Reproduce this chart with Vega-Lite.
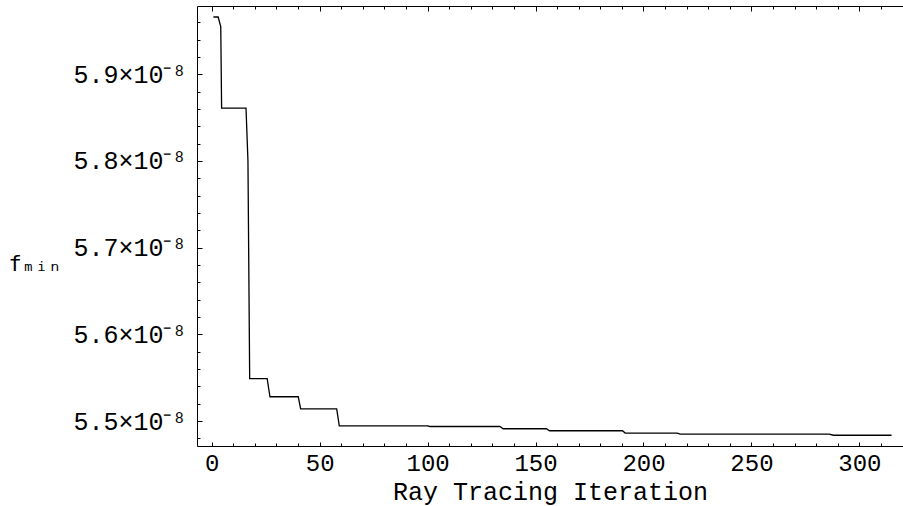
{
  "$schema": "https://vega.github.io/schema/vega-lite/v6.json",
  "autosize": {"type": "none"},
  "padding": {"left": 197, "top": 6, "right": 0, "bottom": 60},
  "width": 706,
  "height": 440,
  "background": "white",
  "config": {
    "view": {"stroke": null},
    "axis": {
      "domainColor": "black",
      "domainWidth": 1,
      "tickColor": "black",
      "tickWidth": 1,
      "grid": false,
      "labelFont": "Liberation Mono",
      "titleFont": "Liberation Mono",
      "labelColor": "black",
      "titleColor": "black",
      "labelFontSize": 24,
      "titleFontSize": 25,
      "titleFontWeight": "normal"
    }
  },
  "data": {
    "values": [
      {"it": 0.8, "f": 5.966e-8},
      {"it": 3.0, "f": 5.966e-8},
      {"it": 4.2, "f": 5.955e-8},
      {"it": 4.6, "f": 5.861e-8},
      {"it": 15.9, "f": 5.861e-8},
      {"it": 16.8, "f": 5.800e-8},
      {"it": 17.6, "f": 5.549e-8},
      {"it": 25.7, "f": 5.549e-8},
      {"it": 27.0, "f": 5.528e-8},
      {"it": 40.1, "f": 5.528e-8},
      {"it": 41.2, "f": 5.514e-8},
      {"it": 57.9, "f": 5.514e-8},
      {"it": 59.1, "f": 5.4945e-8},
      {"it": 100.0, "f": 5.4945e-8},
      {"it": 101.0, "f": 5.4937e-8},
      {"it": 133.5, "f": 5.4937e-8},
      {"it": 135.0, "f": 5.4911e-8},
      {"it": 155.0, "f": 5.4911e-8},
      {"it": 156.5, "f": 5.4888e-8},
      {"it": 190.3, "f": 5.4888e-8},
      {"it": 191.5, "f": 5.4861e-8},
      {"it": 215.6, "f": 5.4861e-8},
      {"it": 217.0, "f": 5.4850e-8},
      {"it": 286.0, "f": 5.4850e-8},
      {"it": 288.0, "f": 5.4836e-8},
      {"it": 314.9, "f": 5.4836e-8}
    ]
  },
  "layer": [
    {
      "mark": {"type": "line", "color": "black", "strokeWidth": 1.3, "clip": true},
      "encoding": {
        "x": {
          "field": "it", "type": "quantitative",
          "scale": {"domain": [-6.8, 320.2], "nice": false, "zero": false},
          "axis": {
            "orient": "bottom",
            "title": "Ray Tracing Iteration",
            "values": [0,10,20,30,40,50,60,70,80,90,100,110,120,130,140,150,160,170,180,190,200,210,220,230,240,250,260,270,280,290,300,310,320],
            "labelExpr": "datum.value % 50 == 0 ? format(datum.value, 'd') : ''",
            "tickSize": {"condition": {"test": "datum.value % 50 == 0", "value": -4}, "value": -3},
            "labelPadding": 9,
            "titlePadding": 3,
            "labelFlush": false,
            "labelOverlap": false
          }
        },
        "y": {
          "field": "f", "type": "quantitative",
          "scale": {"domain": [5.4712e-8, 5.9787e-8], "nice": false, "zero": false},
          "axis": {
            "orient": "left",
            "title": "fₘᵢₙ",
            "titleFont": "DejaVu Sans Mono",
            "titleFontSize": 22,
            "titleAngle": 0,
            "titleAlign": "left",
            "titleBaseline": "middle",
            "titleX": -189,
            "titleY": 257,
            "values": [5.48e-8,5.50e-8,5.52e-8,5.54e-8,5.56e-8,5.58e-8,5.60e-8,5.62e-8,5.64e-8,5.66e-8,5.68e-8,5.70e-8,5.72e-8,5.74e-8,5.76e-8,5.78e-8,5.80e-8,5.82e-8,5.84e-8,5.86e-8,5.88e-8,5.90e-8,5.92e-8,5.94e-8,5.96e-8],
            "labelExpr": "round(datum.value*1e10) % 10 == 0 ? format(datum.value*1e8, '.1f') + '×10⁻⁸' : ''",
            "labelFontSize": 25,
            "tickSize": {"condition": {"test": "round(datum.value*1e10) % 10 == 0", "value": -5}, "value": -3},
            "labelPadding": 16,
            "labelFlush": false,
            "labelOverlap": false
          }
        }
      }
    },
    {
      "mark": {"type": "rule", "opacity": 0},
      "encoding": {
        "x": {
          "field": "it", "type": "quantitative",
          "scale": {"domain": [-6.8, 320.2], "nice": false, "zero": false},
          "axis": {
            "orient": "top",
            "title": null,
            "labels": false,
            "values": [0,10,20,30,40,50,60,70,80,90,100,110,120,130,140,150,160,170,180,190,200,210,220,230,240,250,260,270,280,290,300,310,320],
            "tickSize": {"condition": {"test": "datum.value % 50 == 0", "value": -5}, "value": -3}
          }
        }
      }
    }
  ],
  "resolve": {"axis": {"x": "independent"}}
}
